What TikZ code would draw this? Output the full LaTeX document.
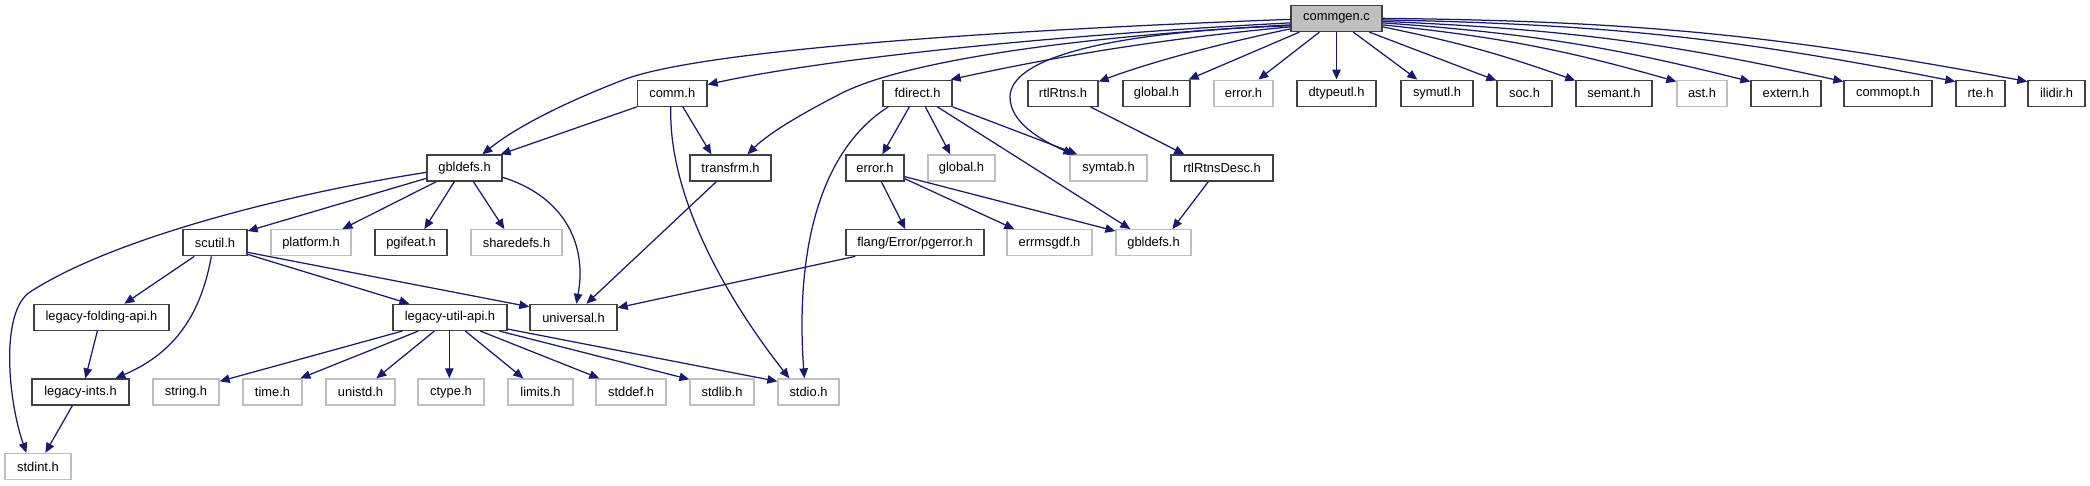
\documentclass[tikz,border=0pt]{standalone}
\usepackage{fontspec}
\setmainfont{Liberation Sans}
\usetikzlibrary{arrows.meta}
\definecolor{edgec}{HTML}{191970}
\definecolor{greyb}{HTML}{BFBFBF}
\definecolor{darkb}{HTML}{404040}
\tikzset{
  box/.style={rectangle, inner sep=0pt, minimum height=26pt, line width=1.3pt, fill=white,
    font=\fontsize{12.9}{14}\selectfont, text=black, anchor=center},
  doc/.style={box, draw=darkb},
  undoc/.style={box, draw=greyb},
  mainnode/.style={box, draw=darkb, fill=greyb},
  edge/.style={draw=edgec, line width=1.25pt, -{Triangle[length=10pt,width=8.5pt]}}
}
\begin{document}
\begin{tikzpicture}[x=1pt,y=-1pt]
\useasboundingbox (0,0) rectangle (2090,485);
% row 0
\node[mainnode, minimum width=91] (commgen) at (1336.5,18.5) {commgen.c};
% row 1
\node[doc, minimum width=69.5] (comm) at (672.25,93.2) {comm.h};
\node[doc, minimum width=69] (fdirect) at (917.5,93.2) {fdirect.h};
\node[doc, minimum width=70] (rtlRtns) at (1063,93.2) {rtlRtns.h};
\node[doc, minimum width=67] (globalA) at (1156.5,93.2) {global.h};
\node[undoc, minimum width=59] (errorA) at (1243.5,93.2) {error.h};
\node[doc, minimum width=79] (dtypeutl) at (1336.5,93.2) {dtypeutl.h};
\node[doc, minimum width=72] (symutl) at (1437,93.2) {symutl.h};
\node[doc, minimum width=55] (soc) at (1524.5,93.2) {soc.h};
\node[doc, minimum width=76] (semant) at (1614,93.2) {semant.h};
\node[undoc, minimum width=50] (ast) at (1702,93.2) {ast.h};
\node[doc, minimum width=70] (extern) at (1786,93.2) {extern.h};
\node[doc, minimum width=88] (commopt) at (1888,93.2) {commopt.h};
\node[doc, minimum width=49] (rte) at (1980.5,93.2) {rte.h};
\node[doc, minimum width=57] (ilidir) at (2056.5,93.2) {ilidir.h};
% row 2
\node[doc, minimum width=75] (gbldefs) at (464.5,168) {gbldefs.h};
\node[doc, minimum width=81] (transfrm) at (730.5,168) {transfrm.h};
\node[doc, minimum width=58] (errorB) at (875,168) {error.h};
\node[undoc, minimum width=67] (globalB) at (961.5,168) {global.h};
\node[undoc, minimum width=77] (symtab) at (1108.5,168) {symtab.h};
\node[doc, minimum width=102] (rtlDesc) at (1222,168) {rtlRtnsDesc.h};
% row 3
\node[doc, minimum width=64] (scutil) at (215,242.7) {scutil.h};
\node[undoc, minimum width=80] (platform) at (311,242.7) {platform.h};
\node[doc, minimum width=72] (pgifeat) at (411,242.7) {pgifeat.h};
\node[undoc, minimum width=91] (sharedefs) at (516.5,242.7) {sharedefs.h};
\node[doc, minimum width=138] (pgerror) at (915,242.7) {flang/Error/pgerror.h};
\node[undoc, minimum width=85] (errmsgdf) at (1049.5,242.7) {errmsgdf.h};
\node[undoc, minimum width=75] (gbldefsB) at (1153.5,242.7) {gbldefs.h};
% row 4
\node[doc, minimum width=135] (legfold) at (101.5,317.4) {legacy-folding-api.h};
\node[doc, minimum width=114] (legutil) at (450,317.4) {legacy-util-api.h};
\node[doc, minimum width=87] (universal) at (573.5,317.4) {universal.h};
% row 5
\node[doc, minimum width=97] (legints) at (80.5,392) {legacy-ints.h};
\node[undoc, minimum width=66] (string) at (186,392) {string.h};
\node[undoc, minimum width=59] (time) at (272.5,392) {time.h};
\node[undoc, minimum width=69] (unistd) at (360.5,392) {unistd.h};
\node[undoc, minimum width=66] (ctype) at (451,392) {ctype.h};
\node[undoc, minimum width=65] (limits) at (540.5,392) {limits.h};
\node[undoc, minimum width=70] (stddef) at (631,392) {stddef.h};
\node[undoc, minimum width=64] (stdlib) at (722,392) {stdlib.h};
\node[undoc, minimum width=61] (stdio) at (808.5,392) {stdio.h};
% row 6
\node[undoc, minimum width=66] (stdint) at (38,466.5) {stdint.h};

% ---- edges from commgen.c
\draw[edge] ([yshift=-14.5pt]commgen.north west) .. controls (1000,30) and (700,50) .. (623,80)
   .. controls (561,104) and (515,128) .. ([xshift=56pt]gbldefs.north west);
\draw[edge] ([yshift=-18pt]commgen.north west) .. controls (1000,38) and (800,64) .. ([yshift=-5pt]comm.north east);
\draw[edge] ([yshift=-20pt]commgen.north west) .. controls (1050,38) and (900,64) .. (842,93)
   .. controls (805,112) and (770,132) .. ([xshift=58pt]transfrm.north west);
\draw[edge] ([yshift=-22pt]commgen.north west) .. controls (1150,40) and (1050,58) .. ([xshift=-2pt]fdirect.north east);
\draw[edge] ([yshift=-21pt]commgen.north west) .. controls (1100,32) and (1010,60) .. (1010,97)
   .. controls (1010,122) and (1040,140) .. ([xshift=4pt]symtab.north west);
\draw[edge] ([yshift=-24pt]commgen.north west) .. controls (1200,48) and (1140,66) .. ([yshift=-2pt]rtlRtns.north east);
\draw[edge] ([xshift=9pt]commgen.south west) -- ([xshift=-2pt]globalA.north east);
\draw[edge] ([xshift=29pt]commgen.south west) -- ([xshift=45pt]errorA.north west);
\draw[edge] (commgen.south) -- (dtypeutl.north);
\draw[edge] ([xshift=63pt]commgen.south west) -- ([xshift=17pt]symutl.north west);
\draw[edge] ([xshift=79pt]commgen.south west) -- ([yshift=-1pt]soc.north west);
\draw[edge] ([yshift=-22pt]commgen.north east) to[bend left=4] ([yshift=-1pt]semant.north west);
\draw[edge] ([yshift=-20pt]commgen.north east) to[bend left=5] ([yshift=-2pt]ast.north west);
\draw[edge] ([yshift=-18pt]commgen.north east) to[bend left=5] ([yshift=-2pt]extern.north west);
\draw[edge] ([yshift=-16.5pt]commgen.north east) to[bend left=5] ([yshift=-2pt]commopt.north west);
\draw[edge] ([yshift=-15pt]commgen.north east) to[bend left=5] ([yshift=-2pt]rte.north west);
\draw[edge] ([yshift=-13.5pt]commgen.north east) to[bend left=5] ([yshift=-2pt]ilidir.north west);

% ---- comm.h
\draw[edge] (comm.south west) -- ([xshift=-2pt]gbldefs.north east);
\draw[edge] ([xshift=46pt]comm.south west) -- ([xshift=22pt]transfrm.north west);
\draw[edge] ([xshift=34pt]comm.south west) .. controls (668,190) and (720,290) .. ([xshift=12pt]stdio.north west);

% ---- fdirect.h
\draw[edge] ([xshift=27pt]fdirect.south west) -- ([xshift=37pt]errorB.north west);
\draw[edge] ([xshift=43pt]fdirect.south west) -- ([xshift=23pt]globalB.north west);
\draw[edge] (fdirect.south east) -- ([xshift=8pt]symtab.north west);
\draw[edge] ([xshift=55pt]fdirect.south west) -- ([xshift=15pt]gbldefsB.north west);
\draw[edge] ([xshift=6pt]fdirect.south west) .. controls (820,150) and (795,250) .. ([xshift=27pt]stdio.north west);

% ---- rtlRtns / rtlRtnsDesc
\draw[edge] ([xshift=63pt]rtlRtns.south west) -- ([xshift=14pt]rtlDesc.north west);
\draw[edge] ([xshift=38pt]rtlDesc.south west) -- ([xshift=57pt]gbldefsB.north west);

% ---- error.h
\draw[edge] ([xshift=36pt]errorB.south west) -- ([xshift=60pt]pgerror.north west);
\draw[edge] ([yshift=3pt]errorB.south east) -- ([xshift=8pt]errmsgdf.north west);
\draw[edge] ([yshift=5pt]errorB.south east) -- ([yshift=-2pt]gbldefsB.north west);

% ---- pgerror / transfrm -> universal
\draw[edge] ([xshift=10pt]pgerror.south west) -- ([yshift=-4pt]universal.north east);
\draw[edge] ([xshift=27pt]transfrm.south west) -- ([xshift=57pt]universal.north west);

% ---- gbldefs.h
\draw[edge] ([yshift=-23pt]gbldefs.north east) .. controls (560,195) and (588,240) .. ([xshift=47pt]universal.north west);
\draw[edge] ([xshift=47pt]gbldefs.south west) -- ([xshift=34pt]sharedefs.north west);
\draw[edge] ([xshift=28pt]gbldefs.south west) -- ([xshift=50pt]pgifeat.north west);
\draw[edge] ([xshift=10pt]gbldefs.south west) -- ([xshift=72pt]platform.north west);
\draw[edge] ([yshift=-24pt]gbldefs.north west) -- ([yshift=-2pt]scutil.north east);
\draw[edge] ([yshift=-18pt]gbldefs.north west) .. controls (280,195) and (110,240) .. (30,292)
   .. controls (0,312) and (8,400) .. ([xshift=22pt]stdint.north west);

% ---- scutil.h
\draw[edge] ([xshift=12pt]scutil.south west) -- ([xshift=91pt]legfold.north west);
\draw[edge] ([xshift=29pt]scutil.south west) .. controls (200,320) and (170,355) .. ([xshift=84pt]legints.north west);
\draw[edge] ([yshift=2pt]scutil.south east) -- ([xshift=17pt]legutil.north west);
\draw[edge] ([yshift=4pt]scutil.south east) -- ([yshift=-3pt]universal.north west);

% ---- legacy
\draw[edge] ([xshift=64pt]legfold.south west) -- ([xshift=54pt]legints.north west);
\draw[edge] ([xshift=41pt]legints.south west) -- ([xshift=41pt]stdint.north west);
\draw[edge] ([xshift=10pt]legutil.south west) -- ([yshift=-3pt]string.north east);
\draw[edge] ([xshift=26pt]legutil.south west) -- ([xshift=58pt]time.north west);
\draw[edge] ([xshift=42pt]legutil.south west) -- ([xshift=51pt]unistd.north west);
\draw[edge] ([xshift=57pt]legutil.south west) -- ([xshift=32pt]ctype.north west);
\draw[edge] ([xshift=73pt]legutil.south west) -- ([xshift=16pt]limits.north west);
\draw[edge] ([xshift=88pt]legutil.south west) -- ([xshift=4pt]stddef.north west);
\draw[edge] ([xshift=107pt]legutil.south west) -- ([yshift=-1pt]stdlib.north west);
\draw[edge] ([yshift=2pt]legutil.south east) -- ([yshift=-3pt]stdio.north west);
\end{tikzpicture}
\end{document}
